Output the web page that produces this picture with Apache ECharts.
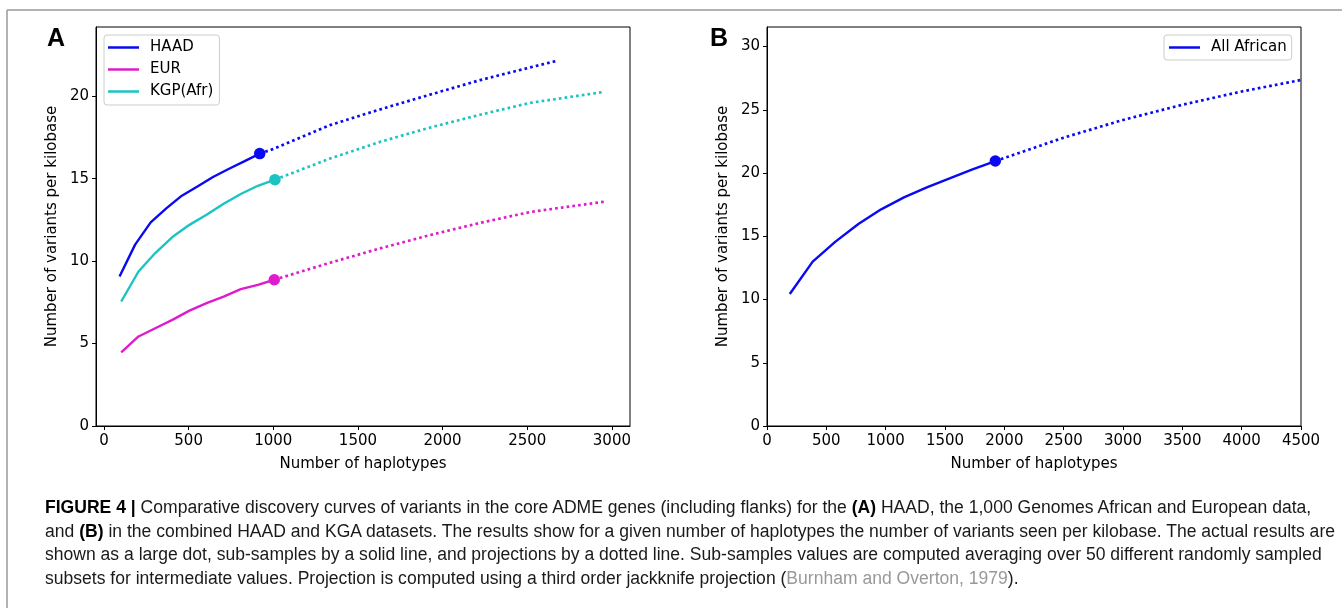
<!DOCTYPE html>
<html>
<head>
<meta charset="utf-8">
<script src="https://cdn.jsdelivr.net/npm/echarts@6/dist/echarts.min.js"></script>
<style>
  body { margin: 0; background: #fff; }
  #chart { position: absolute; left: 0; top: 0; width: 1342px; height: 608px; }
  #caption {
    position: absolute; left: 45px; top: 496px;
    font-family: 'Liberation Sans', Arial, sans-serif;
    font-size: 18px; line-height: 23.6px;
    color: #1a1a1a; white-space: nowrap; transform-origin: 0 0;
  }
  #caption div { display: inline-block; }
  #caption b { font-weight: bold; color: #000; }
  #caption .ref { color: #999; }
</style>
</head>
<body>
<div id="chart"></div>
<div id="caption">
<div><b>FIGURE 4 |</b> Comparative discovery curves of variants in the core ADME genes (including flanks) for the <b>(A)</b> HAAD, the 1,000 Genomes African and European data,</div><br>
<div id="capline2">and <b>(B)</b> in the combined HAAD and KGA datasets. The results show for a given number of haplotypes the number of variants seen per kilobase. The actual results are</div><br>
<div>shown as a large dot, sub-samples by a solid line, and projections by a dotted line. Sub-samples values are computed averaging over 50 different randomly sampled</div><br>
<div>subsets for intermediate values. Projection is computed using a third order jackknife projection (<span class="ref">Burnham and Overton, 1979</span>).</div>
</div>
<script>
// panel A: sub-samples (solid), projection (dotted), actual result (dot)
const haadX = [92, 184, 276, 368, 460, 552, 644, 736, 828, 920]
const haadY = [9.07, 11.0, 12.35, 13.2, 13.97, 14.53, 15.1, 15.59, 16.05, 16.52]
const haadProjX = [920, 1000, 1335, 1630, 1926, 2222, 2518, 2672]
const haadProjY = [16.52, 16.8, 18.25, 19.2, 20.1, 20.98, 21.75, 22.14]

const eurX = [102, 204, 303, 404, 505, 606, 707, 808, 909, 1006]
const eurY = [4.47, 5.43, 5.93, 6.44, 7.0, 7.45, 7.85, 8.3, 8.56, 8.87]
const eurProjX = [1006, 1335, 1630, 1926, 2222, 2518, 2952]
const eurProjY = [8.87, 9.9, 10.77, 11.58, 12.32, 12.98, 13.6]

const kgpX = [102, 204, 303, 404, 505, 606, 707, 808, 909, 1010]
const kgpY = [7.55, 9.37, 10.49, 11.46, 12.2, 12.81, 13.48, 14.07, 14.57, 14.94]
const kgpProjX = [1010, 1335, 1630, 1926, 2222, 2518, 2952]
const kgpProjY = [14.94, 16.22, 17.23, 18.1, 18.88, 19.6, 20.26]

// panel B
const afrX = [192, 385, 577, 770, 962, 1154, 1347, 1539, 1732, 1924]
const afrY = [10.44, 13.0, 14.58, 15.97, 17.13, 18.08, 18.87, 19.58, 20.3, 20.95]
const afrProjX = [1924, 2500, 3000, 3500, 4000, 4500]
const afrProjY = [20.95, 22.8, 24.2, 25.4, 26.45, 27.36]

const ticksXA = [0, 500, 1000, 1500, 2000, 2500, 3000]
const ticksYA = [0, 5, 10, 15, 20]
const ticksXB = [0, 500, 1000, 1500, 2000, 2500, 3000, 3500, 4000, 4500]
const ticksYB = [0, 5, 10, 15, 20, 25, 30]

const BLUE = '#0a0af2'
const MAGENTA = '#df1ccd'
const CYAN = '#1cc3c3'
const FONT = 'DejaVu Sans'

// squeeze the caption a little so that line 2 spans the page like the figure
const cap = document.getElementById('caption')
const w2 = document.getElementById('capline2').getBoundingClientRect().width
cap.style.transform = 'scaleX(' + (1290 / w2) + ')'

function pairs(xs, ys) {
  return xs.map((x, i) => [x, ys[i]])
}

const plain = v => String(v)

function xAxis(gridIndex, min, max, ticks) {
  return {
    gridIndex: gridIndex, type: 'value', min: min, max: max,
    name: 'Number of haplotypes', nameLocation: 'middle', nameGap: 31,
    nameTextStyle: { fontFamily: FONT, fontSize: 15, color: '#000' },
    axisLine: { show: true, onZero: false, lineStyle: { color: '#000', width: 1 } },
    axisTick: { show: true, length: 4, customValues: ticks, lineStyle: { color: '#000' } },
    axisLabel: { customValues: ticks, formatter: plain, margin: 8, fontFamily: FONT, fontSize: 15, color: '#000' },
    splitLine: { show: false }
  }
}

function yAxis(gridIndex, max, ticks) {
  return {
    gridIndex: gridIndex, type: 'value', min: 0, max: max,
    name: 'Number of variants per kilobase', nameLocation: 'middle', nameGap: 36,
    nameTextStyle: { fontFamily: FONT, fontSize: 15, color: '#000' },
    axisLine: { show: true, onZero: false, lineStyle: { color: '#000', width: 1 } },
    axisTick: { show: true, length: 4, customValues: ticks, lineStyle: { color: '#000' } },
    axisLabel: { customValues: ticks, formatter: plain, margin: 7, fontFamily: FONT, fontSize: 15, color: '#000' },
    splitLine: { show: false }
  }
}

function curve(name, color, panel, xs, ys, px, py) {
  const n = xs.length - 1
  return [
    {
      name: name, type: 'line', xAxisIndex: panel, yAxisIndex: panel, color: color,
      data: pairs(xs, ys), symbol: 'none', lineStyle: { color: color, width: 2.4 }, z: 3
    },
    {
      name: name + ' projection', type: 'line', xAxisIndex: panel, yAxisIndex: panel, color: color,
      data: pairs(px, py), symbol: 'none',
      lineStyle: { color: color, width: 2.7, type: [2.7, 3.1], cap: 'butt' }, z: 2
    },
    {
      name: name + ' actual', type: 'scatter', xAxisIndex: panel, yAxisIndex: panel,
      data: [[xs[n], ys[n]]], symbolSize: 11.5, itemStyle: { color: color, opacity: 1 }, z: 4
    }
  ]
}

function legend(left, top, names, pad) {
  return {
    orient: 'vertical', left: left, top: top, icon: 'rect',
    itemWidth: 31, itemHeight: 2.5, itemGap: 7,
    padding: pad,
    backgroundColor: 'rgba(255,255,255,0.8)',
    borderColor: '#cccccc', borderWidth: 1, borderRadius: 3,
    textStyle: { fontFamily: FONT, fontSize: 15, color: '#000', padding: [0, 0, 0, 6] },
    selectedMode: false,
    data: names
  }
}

const chart = echarts.init(document.getElementById('chart'))
chart.setOption({
  animation: false,
  backgroundColor: '#fff',
  grid: [
    { left: 96, top: 27, width: 534, height: 399, show: true, borderColor: '#000', borderWidth: 1, outerBoundsMode: 'none' },
    { left: 767, top: 27, width: 534, height: 399, show: true, borderColor: '#000', borderWidth: 1, outerBoundsMode: 'none' }
  ],
  xAxis: [xAxis(0, -47, 3107, ticksXA), xAxis(1, 0, 4500, ticksXB)],
  yAxis: [yAxis(0, 24.2, ticksYA), yAxis(1, 31.55, ticksYB)],
  legend: [
    legend(104, 35, ['HAAD', 'EUR', 'KGP(Afr)'], [5, 6, 6, 4]),
    legend(1164, 35, ['All African'], [5, 5, 5, 5])
  ],
  graphic: [
    { type: 'line', shape: { x1: 7, y1: 10, x2: 1342, y2: 10 }, style: { stroke: '#9a9a9a', lineWidth: 1.5 } },
    { type: 'line', shape: { x1: 7, y1: 10, x2: 7, y2: 608 }, style: { stroke: '#9a9a9a', lineWidth: 1.5 } },
    { type: 'text', left: 47, top: 27, style: { text: 'A', font: 'bold 25px "Liberation Sans"', fill: '#000' } },
    { type: 'text', left: 710, top: 27, style: { text: 'B', font: 'bold 25px "Liberation Sans"', fill: '#000' } }
  ],
  series: [].concat(
    curve('HAAD', BLUE, 0, haadX, haadY, haadProjX, haadProjY),
    curve('EUR', MAGENTA, 0, eurX, eurY, eurProjX, eurProjY),
    curve('KGP(Afr)', CYAN, 0, kgpX, kgpY, kgpProjX, kgpProjY),
    curve('All African', BLUE, 1, afrX, afrY, afrProjX, afrProjY)
  )
})
</script>
</body>
</html>
